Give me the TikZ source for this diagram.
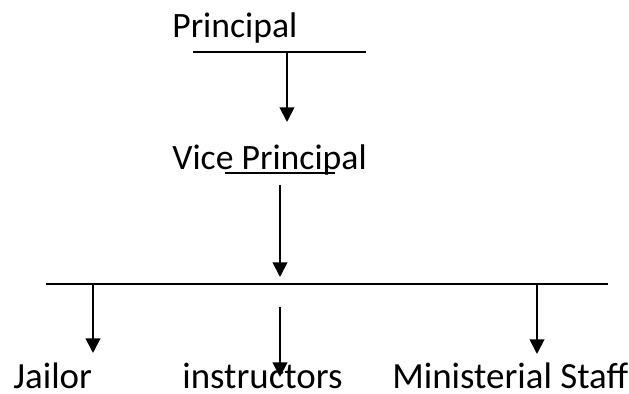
\documentclass[tikz,border=0pt]{standalone}
\usepackage{fontspec}
\setmainfont{Carlito}
\usetikzlibrary{arrows.meta,positioning}
\tikzset{
  post/.style={font=\fontsize{20.3}{24}\selectfont, anchor=base west, inner sep=0pt},
  staff/.style={post, font=\fontsize{21}{25}\selectfont},
  rule/.style={line width=1.1pt},
  down/.style={rule, -{Triangle[width=0.29cm,length=0.29cm]}}
}

\begin{document}
\begin{tikzpicture}[>=latex]
\useasboundingbox (0,0) rectangle (12.58,7.88);

% ==========================================
% TOP: Principal
% ==========================================
\node[post] (principal) at (3.44,7.12) {Principal};
\coordinate (pl) at (3.86,6.84);
\coordinate (pr) at (7.32,6.84);
\coordinate (pm) at (5.74,6.84);
\coordinate (pt) at (5.74,5.44);
\draw[rule] (pl) -- (pr);
\draw[down] (pm) -- (pt);

% ==========================================
% MIDDLE: Vice Principal
% ==========================================
\node[post] (vice) at (3.44,4.48) {Vice Principal};
\coordinate (vl) at (4.50,4.42);
\coordinate (vr) at (6.70,4.42);
\draw[rule] (vl) -- (vr);
\coordinate (vs) at (5.60,4.18);
\coordinate (vt) at (5.60,2.34);
\draw[down] (vs) -- (vt);

% ==========================================
% BOTTOM: branch line and staff
% ==========================================
\coordinate (bl) at (0.92,2.20);
\coordinate (br) at (12.16,2.20);
\draw[rule] (bl) -- (br);

\node[staff] (jailor) at (0.26,0.1) {Jailor};
\node[staff] (instr) at (3.64,0.1) {instructors};
\node[staff] (minis) at (7.84,0.1) {Ministerial Staff};

\coordinate (js) at (1.86,2.20);
\coordinate (jt) at (1.86,0.82);
\draw[down] (js) -- (jt);

\coordinate (is) at (5.60,1.74);
\coordinate (it) at (5.60,0.34);
\draw[down] (is) -- (it);

\coordinate (ms) at (10.74,2.20);
\coordinate (mt) at (10.74,0.80);
\draw[down] (ms) -- (mt);

\end{tikzpicture}
\end{document}
